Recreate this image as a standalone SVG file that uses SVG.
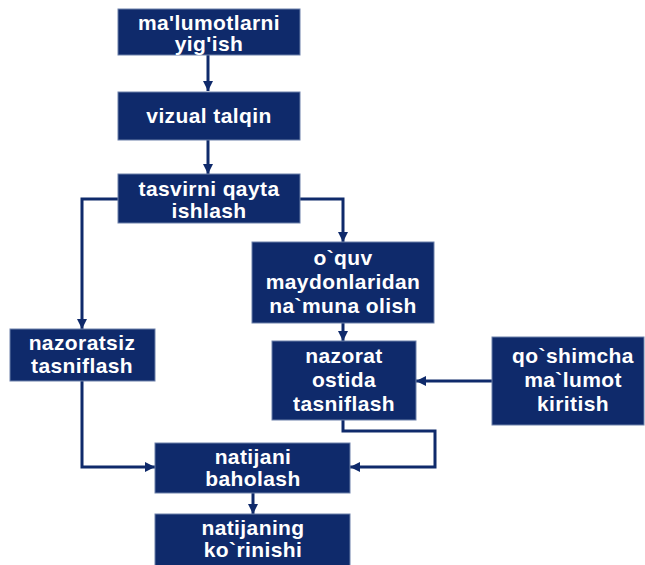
<svg xmlns="http://www.w3.org/2000/svg" width="645" height="565" viewBox="0 0 645 565">
<defs>
<marker id="ah" viewBox="0 0 10 10" refX="10" refY="5" markerWidth="10" markerHeight="10" markerUnits="userSpaceOnUse" orient="auto">
<path d="M0,0 L10,5 L0,10 z" fill="#0f2a6b"/>
</marker>
<style>
.box{fill:#0f2a6b;stroke:#6d80aa;stroke-width:1}
.t{font-family:"Liberation Sans",Arial,sans-serif;font-weight:bold;font-size:21px;fill:#ffffff;text-anchor:middle;letter-spacing:0.4px}
.c{fill:none;stroke:#0f2a6b;stroke-width:3}
</style>
</defs>
<rect width="645" height="565" fill="#ffffff"/>
<g id="connectors">
<path class="c" d="M208,55 V91" marker-end="url(#ah)"/>
<path class="c" d="M208,140 V174" marker-end="url(#ah)"/>
<path class="c" d="M118,199 H82 V329" marker-end="url(#ah)"/>
<path class="c" d="M300,199 H343 V242" marker-end="url(#ah)"/>
<path class="c" d="M343,323 V341" marker-end="url(#ah)"/>
<path class="c" d="M492,381 H416" marker-end="url(#ah)"/>
<path class="c" d="M343,420 V431 H435 V467 H350" marker-end="url(#ah)"/>
<path class="c" d="M82,381 V467 H155" marker-end="url(#ah)"/>
<path class="c" d="M253,493 V514" marker-end="url(#ah)"/>
</g>
<g id="n1"><rect class="box" x="118" y="9" width="182" height="46"/>
<text class="t" x="209" y="30">ma'lumotlarni</text><text class="t" x="209" y="51">yig'ish</text></g>
<g id="n2"><rect class="box" x="118" y="92" width="182" height="48"/>
<text class="t" x="209" y="123">vizual  talqin</text></g>
<g id="n3"><rect class="box" x="118" y="174" width="182" height="49"/>
<text class="t" x="209" y="196">tasvirni qayta</text><text class="t" x="209" y="218">ishlash</text></g>
<g id="n4"><rect class="box" x="252" y="242" width="182" height="81"/>
<text class="t" x="343" y="265">o`quv</text><text class="t" x="343" y="289">maydonlaridan</text><text class="t" x="343" y="313">na`muna olish</text></g>
<g id="n5"><rect class="box" x="272" y="341" width="144" height="79"/>
<text class="t" x="344" y="363">nazorat</text><text class="t" x="344" y="387">ostida</text><text class="t" x="344" y="411">tasniflash</text></g>
<g id="n6"><rect class="box" x="10" y="329" width="145" height="52"/>
<text class="t" x="82" y="350">nazoratsiz</text><text class="t" x="82" y="373">tasniflash</text></g>
<g id="n7"><rect class="box" x="492" y="337" width="152" height="88"/>
<text class="t" x="573" y="363">qo`shimcha</text><text class="t" x="573" y="387">ma`lumot</text><text class="t" x="573" y="411">kiritish</text></g>
<g id="n8"><rect class="box" x="155" y="443" width="195" height="50"/>
<text class="t" x="253" y="464">natijani</text><text class="t" x="253" y="486">baholash</text></g>
<g id="n9"><rect class="box" x="155" y="514" width="195" height="52"/>
<text class="t" x="253" y="535">natijaning</text><text class="t" x="253" y="557">ko`rinishi</text></g>
</svg>
